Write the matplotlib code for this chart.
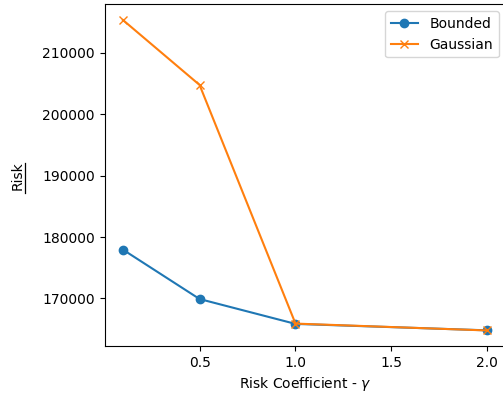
import matplotlib
matplotlib.use("Agg")
import matplotlib.pyplot as plt
from matplotlib.lines import Line2D

# risk coefficient values and the two risk curves
gamma = [0.1, 0.5, 1.0, 2.0]
bounded_risk = [177950, 169900, 165850, 164800]
gaussian_risk = [215350, 204760, 165900, 164780]

fig = plt.figure(figsize=(5.03, 4.0), dpi=100)
ax = fig.add_axes([0.208, 0.135, 0.797, 0.854])

ax.plot(gamma, bounded_risk, marker="o", label="Bounded")
ax.plot(gamma, gaussian_risk, marker="x", label="Gaussian")

ax.set_xticks([0.5, 1.0, 1.5, 2.0])
ax.set_xlabel(r"Risk Coefficient - $\gamma$")
ax.set_ylabel("Risk", labelpad=12.5)
ax.legend(loc="upper right")

# underline under the rotated y label
fig.add_artist(Line2D([25 / 503, 25 / 503], [0.5175, 0.5925],
                      transform=fig.transFigure, color="black", lw=0.9))

fig.savefig("out.png", dpi=100)
